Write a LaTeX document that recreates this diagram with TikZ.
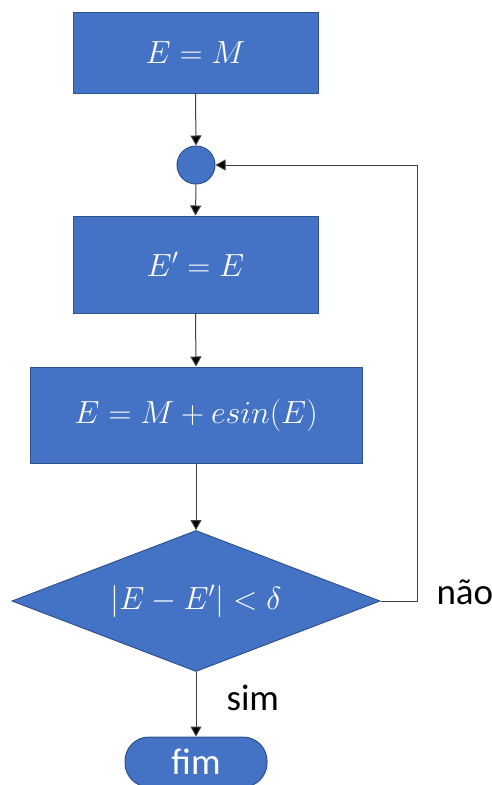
\RequirePackage{fix-cm}
\documentclass[tikz,border=0pt]{standalone}
\usepackage{fontspec}
\setsansfont{Carlito}
\usetikzlibrary{shapes.geometric,arrows.meta}
\definecolor{boxfill}{HTML}{4472C4}
\definecolor{boxline}{HTML}{2F528F}
\definecolor{wire}{HTML}{404040}
\begin{document}
\begin{tikzpicture}[x=1pt,y=-1pt,
  blk/.style={draw=boxline,fill=boxfill,line width=1pt,text=white,inner sep=0pt,font=\fontsize{32}{38}\selectfont},
  conn/.style={draw=wire,line width=1pt,-{Triangle[width=11pt,length=10pt,fill=black]}},
  lab/.style={font=\sffamily\fontsize{37}{44}\selectfont,text=black}]
\useasboundingbox (0,0) rectangle (492,785);
\clip (0,0) rectangle (492,785);
\node[blk,rectangle,minimum width=245pt,minimum height=81pt] (b1) at (195.5,52.5) {$E=M$};
\node[blk,circle,minimum size=38pt] (c) at (196,165) {};
\node[blk,rectangle,minimum width=245pt,minimum height=97pt] (b2) at (195.5,264.5) {$E'=E$};
\node[blk,rectangle,minimum width=332pt,minimum height=96pt] (b3) at (196,415) {$E=M+esin(E)$};
\node[blk,diamond,shape aspect=2.6,minimum width=368pt,minimum height=141pt] (d) at (196,601) {$|E-E'|<\delta$};
\node[blk,rectangle,rounded corners=24pt,minimum width=142pt,minimum height=50pt,font=\sffamily\fontsize{37}{44}\selectfont] (f) at (196,762) {fim};
\draw[conn] (b1.south) -- (c.north);
\draw[conn] (c.south) -- (b2.north);
\draw[conn] (b2.south) -- (b3.north);
\draw[conn] (b3.south) -- (d.north);
\draw[conn] (d.south) -- (f.north);
\coordinate (k) at (417,601);
\draw[conn] (d.east) -- (k) |- (c.east);
\node[lab,anchor=base west] (nao) at (433,604) {não};
\node[lab,anchor=base west] (sim) at (223,710) {sim};
\end{tikzpicture}
\end{document}
